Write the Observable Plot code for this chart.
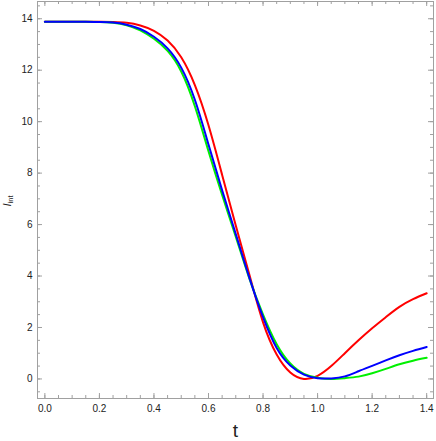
<!DOCTYPE html>
<html>
<head>
<meta charset="utf-8">
<script src="https://cdn.jsdelivr.net/npm/d3@7"></script>
<script src="https://cdn.jsdelivr.net/npm/@observablehq/plot@0.6"></script>
<style>
  html, body { margin: 0; padding: 0; background: #fff; }
</style>
</head>
<body>
<div id="chart"></div>
<script>
const tValues = [0,0.05,0.1,0.15,0.2,0.25,0.3,0.35,0.4,0.45,0.5,0.55,0.6,0.65,0.7,0.75,0.8,0.85,0.9,0.95,1.0,1.05,1.1,1.15,1.2,1.25,1.3,1.35,1.4];
const redValues = [13.88,13.88,13.88,13.88,13.88,13.87,13.84,13.74,13.53,13.15,12.5,11.42,9.86,7.93,5.96,4.05,2.2,0.95,0.25,0.0,0.12,0.5,1.0,1.5,1.97,2.4,2.8,3.1,3.33];
const greenValues = [13.88,13.88,13.88,13.88,13.87,13.84,13.75,13.55,13.22,12.75,11.95,10.6,8.85,7.15,5.53,3.9,2.5,1.35,0.6,0.2,0.05,0.0,0.03,0.09,0.22,0.39,0.57,0.71,0.82];
const blueValues = [13.88,13.88,13.88,13.88,13.87,13.85,13.77,13.6,13.3,12.85,12.1,10.85,9.11,7.33,5.63,3.93,2.4,1.2,0.52,0.17,0.03,0.02,0.1,0.3,0.51,0.72,0.92,1.09,1.24];
const seriesNames = ["s-red", "s-green", "s-blue"];
const seriesColors = ["#ff0000", "#00f000", "#0000ff"];
const xMajorTicks = [0, 0.2, 0.4, 0.6, 0.8, 1.0, 1.2, 1.4];
const xMinorTicks = d3.range(0, 29).map(i => +(i * 0.05).toFixed(2));
const yMajorTicks = [0, 2, 4, 6, 8, 10, 12, 14];
const yMinorTicks = d3.range(-1, 30).map(i => i * 0.5);
const xLabel = "t";
const yLabel = "Iint";

const seriesValues = [redValues, greenValues, blueValues];
const rows = seriesNames.flatMap((name, s) => tValues.map((t, i) => ({series: name, t, v: seriesValues[s][i]})));

const W = 436, H = 441;
const mL = 37, mR = 3, mT = 1, mB = 43;
const pW = W - mL - mR, pH = H - mT - mB;
const frameColor = "#a0a0a0";
const majorLen = 5, minorLen = 3;

const chart = Plot.plot({
  width: W, height: H,
  marginLeft: mL, marginRight: mR, marginTop: mT, marginBottom: mB,
  x: {domain: [-0.027, 1.425]},
  y: {domain: [-0.76, 14.67]},
  color: {domain: seriesNames, range: seriesColors},
  style: {fontFamily: "'Liberation Sans', Arial, sans-serif", fontSize: "10px", color: "#222", background: "#fff"},
  marks: [
    Plot.tickX(xMinorTicks, {x: d => d, insetTop: pH - minorLen, stroke: frameColor}),
    Plot.tickX(xMinorTicks, {x: d => d, insetBottom: pH - minorLen, stroke: frameColor}),
    Plot.tickX(xMajorTicks, {x: d => d, insetTop: pH - majorLen, stroke: frameColor}),
    Plot.tickX(xMajorTicks, {x: d => d, insetBottom: pH - majorLen, stroke: frameColor}),
    Plot.tickY(yMinorTicks, {y: d => d, insetRight: pW - minorLen, stroke: frameColor}),
    Plot.tickY(yMinorTicks, {y: d => d, insetLeft: pW - minorLen, stroke: frameColor}),
    Plot.tickY(yMajorTicks, {y: d => d, insetRight: pW - majorLen, stroke: frameColor}),
    Plot.tickY(yMajorTicks, {y: d => d, insetLeft: pW - majorLen, stroke: frameColor}),
    Plot.axisX({ticks: xMajorTicks, tickSize: 0, tickPadding: 6, tickFormat: d3.format(".1f"), label: null}),
    Plot.axisY({ticks: yMajorTicks, tickSize: 0, tickPadding: 5, tickFormat: d3.format("d"), label: null}),
    Plot.line(rows, {x: "t", y: "v", z: "series", stroke: "series", strokeWidth: 2, curve: "natural"}),
    Plot.frame({stroke: frameColor, strokeWidth: 1}),
    Plot.text([xLabel], {frameAnchor: "bottom", text: d => d, dy: 32, lineAnchor: "middle", textAnchor: "middle", fontSize: 19, fill: "#222"}),
    Plot.text([yLabel], {frameAnchor: "left", text: d => d, dx: -30, dy: 1, rotate: -90, textAnchor: "middle", lineAnchor: "middle", fontSize: 11, fill: "#222"})
  ]
});

document.getElementById("chart").appendChild(chart);

// Render the y label with a real subscript
d3.select(chart).selectAll("text").filter(function() { return this.textContent === yLabel; })
  .each(function() {
    const el = d3.select(this);
    el.text(null);
    el.append("tspan").attr("font-style", "italic").text("I");
    el.append("tspan").attr("font-size", "7.5px").attr("dy", "0.3em").text("int");
  });
</script>
</body>
</html>
